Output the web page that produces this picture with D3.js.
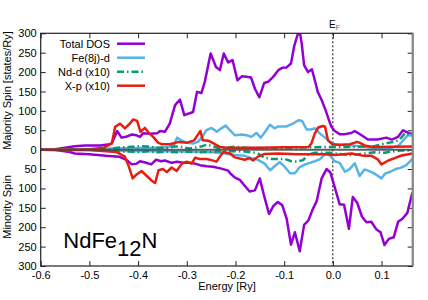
<!DOCTYPE html>
<html>
<head>
<meta charset="utf-8">
<script src="https://cdn.jsdelivr.net/npm/d3@7"></script>
<style>
  body { margin: 0; background: #fff; }
  text { font-family: "Liberation Sans", Arial, sans-serif; fill: #000; }
</style>
</head>
<body>
<div id="chart"></div>
<script>
// [energy (Ry), DOS (states/Ry)]; minority values kept positive, drawn downward
var totalUp = [[-0.6,0],[-0.571,1],[-0.55,5],[-0.53,9],[-0.509,11],[-0.478,11],[-0.462,13],[-0.454,16],[-0.443,48],[-0.434,31],[-0.425,33],[-0.413,39],[-0.403,37],[-0.396,33],[-0.39,42],[-0.376,41],[-0.361,42],[-0.355,48],[-0.345,46],[-0.335,67],[-0.324,115],[-0.314,129],[-0.305,89],[-0.287,97],[-0.279,149],[-0.27,146],[-0.263,175],[-0.251,248],[-0.24,213],[-0.232,205],[-0.224,248],[-0.215,225],[-0.206,231],[-0.196,179],[-0.187,189],[-0.177,188],[-0.168,186],[-0.16,157],[-0.151,135],[-0.141,172],[-0.133,175],[-0.123,187],[-0.112,205],[-0.104,211],[-0.095,212],[-0.086,222],[-0.079,269],[-0.072,298],[-0.068,305],[-0.064,274],[-0.059,218],[-0.051,200],[-0.043,207],[-0.037,179],[-0.031,149],[-0.023,128],[-0.015,102],[-0.008,76],[-0.003,59],[0.004,48],[0.014,40],[0.025,40],[0.038,43],[0.045,48],[0.059,37],[0.072,26],[0.092,26],[0.11,31],[0.121,26],[0.134,33],[0.144,50],[0.155,43],[0.164,40]];
var feUp = [[-0.6,0],[-0.5,1],[-0.45,3],[-0.4,4],[-0.36,5],[-0.34,6],[-0.326,12],[-0.32,31],[-0.31,23],[-0.3,18],[-0.287,16],[-0.277,20],[-0.267,35],[-0.26,50],[-0.249,56],[-0.238,46],[-0.229,55],[-0.22,62],[-0.213,52],[-0.201,37],[-0.187,39],[-0.177,37],[-0.167,33],[-0.157,43],[-0.148,31],[-0.138,48],[-0.129,64],[-0.12,55],[-0.112,60],[-0.095,60],[-0.081,68],[-0.07,76],[-0.063,74],[-0.054,52],[-0.045,52],[-0.036,55],[-0.027,42],[-0.016,31],[-0.006,20],[0.004,14],[0.025,12],[0.044,10],[0.055,9],[0.08,5],[0.1,4],[0.12,5],[0.135,10],[0.145,25],[0.155,38],[0.164,36]];
var ndUp = [[-0.6,0],[-0.5,0],[-0.46,1],[-0.443,5],[-0.42,7],[-0.4,9],[-0.38,8],[-0.36,5],[-0.34,5],[-0.325,8],[-0.315,8],[-0.295,3],[-0.279,6],[-0.268,9],[-0.258,13],[-0.248,9],[-0.232,3],[-0.212,6],[-0.201,8],[-0.191,6],[-0.17,4],[-0.1,4],[-0.05,6],[0,7],[0.03,7],[0.06,8],[0.085,9],[0.106,16],[0.127,20],[0.137,26],[0.148,42],[0.164,36]];
var xpUp = [[-0.6,0],[-0.5,1],[-0.47,5],[-0.454,16],[-0.447,59],[-0.437,67],[-0.427,55],[-0.417,67],[-0.41,78],[-0.402,74],[-0.395,46],[-0.386,56],[-0.377,42],[-0.369,33],[-0.359,18],[-0.352,14],[-0.335,14],[-0.316,20],[-0.299,18],[-0.285,24],[-0.272,48],[-0.267,24],[-0.256,23],[-0.242,14],[-0.232,7],[-0.218,5],[-0.15,5],[-0.1,6],[-0.05,7],[-0.044,16],[-0.037,42],[-0.03,57],[-0.021,61],[-0.016,59],[-0.01,24],[-0.001,14],[0.014,12],[0.035,14],[0.05,20],[0.058,16],[0.067,10],[0.083,7],[0.164,8]];

var totalDn = [[-0.6,0],[-0.57,1],[-0.54,6],[-0.53,10],[-0.5,12],[-0.466,16],[-0.439,18],[-0.423,27],[-0.413,38],[-0.403,36],[-0.396,30],[-0.385,33],[-0.373,38],[-0.363,26],[-0.353,30],[-0.345,28],[-0.331,34],[-0.32,31],[-0.307,34],[-0.293,34],[-0.283,36],[-0.273,40],[-0.259,43],[-0.246,44],[-0.229,49],[-0.215,54],[-0.211,61],[-0.201,72],[-0.191,78],[-0.181,93],[-0.171,108],[-0.16,105],[-0.15,74],[-0.141,120],[-0.131,166],[-0.122,145],[-0.113,135],[-0.104,143],[-0.095,177],[-0.086,245],[-0.078,213],[-0.068,262],[-0.059,194],[-0.05,182],[-0.042,156],[-0.033,132],[-0.023,74],[-0.013,50],[-0.005,59],[0.005,102],[0.014,141],[0.023,142],[0.033,204],[0.041,122],[0.05,137],[0.06,173],[0.069,187],[0.079,186],[0.089,205],[0.098,213],[0.106,246],[0.115,230],[0.125,226],[0.134,186],[0.143,178],[0.153,163],[0.162,117],[0.164,110]];
var feDn = [[-0.6,0],[-0.5,1],[-0.45,3],[-0.4,4],[-0.35,4],[-0.3,5],[-0.26,6],[-0.23,8],[-0.222,10],[-0.201,14],[-0.181,16],[-0.164,23],[-0.153,27],[-0.14,36],[-0.129,53],[-0.119,42],[-0.109,32],[-0.099,44],[-0.088,61],[-0.078,61],[-0.068,45],[-0.057,38],[-0.047,34],[-0.037,30],[-0.027,25],[-0.016,12],[-0.009,11],[0.004,30],[0.014,34],[0.025,57],[0.034,51],[0.045,35],[0.055,68],[0.065,51],[0.076,56],[0.086,62],[0.1,74],[0.107,62],[0.118,57],[0.129,50],[0.139,47],[0.151,40],[0.161,27],[0.164,23]];
var ndDn = [[-0.6,0],[-0.5,0],[-0.46,1],[-0.44,4],[-0.42,5],[-0.4,6],[-0.38,4],[-0.36,7],[-0.34,5],[-0.32,7],[-0.3,5],[-0.28,7],[-0.26,6],[-0.24,5],[-0.22,4],[-0.2,4],[-0.18,5],[-0.16,8],[-0.154,10],[-0.14,21],[-0.126,24],[-0.099,24],[-0.085,30],[-0.074,31],[-0.061,27],[-0.051,12],[-0.036,8],[-0.004,8],[0.018,12],[0.038,14],[0.066,10],[0.086,7],[0.106,8],[0.12,5],[0.14,2],[0.164,2]];
var xpDn = [[-0.6,0],[-0.5,1],[-0.466,4],[-0.445,6],[-0.427,18],[-0.42,40],[-0.411,74],[-0.403,64],[-0.393,55],[-0.382,68],[-0.372,80],[-0.365,86],[-0.358,53],[-0.349,50],[-0.341,58],[-0.331,46],[-0.321,55],[-0.31,36],[-0.3,31],[-0.29,36],[-0.283,21],[-0.273,24],[-0.259,24],[-0.249,27],[-0.239,31],[-0.232,18],[-0.225,6],[-0.211,10],[-0.201,20],[-0.181,26],[-0.171,22],[-0.164,28],[-0.154,18],[-0.14,11],[-0.113,10],[-0.072,12],[-0.016,12],[0.004,14],[0.039,10],[0.064,16],[0.08,16],[0.092,25],[0.1,38],[0.114,28],[0.127,22],[0.141,15],[0.164,10]];

var seriesNames = ['Total DOS', 'Fe(8j)-d', 'Nd-d (x10)', 'X-p (x10)'];
var seriesColors = ['#9400d3', '#56b4e9', '#009e73', '#e51e10'];
var seriesDash = [null, null, '7,3,1.5,3', null];
var xTicks = [-0.6, -0.5, -0.4, -0.3, -0.2, -0.1, 0.0, 0.1];
var yTicks = [-300, -250, -200, -150, -100, -50, 0, 50, 100, 150, 200, 250, 300];

var width = 428, height = 300;
var plotL = 40.7, plotR = 412.7, plotT = 33.3, plotB = 266;

var svg = d3.select('#chart').append('svg')
  .attr('width', width)
  .attr('height', height);

var x = d3.scaleLinear().domain([-0.6, 0.164]).range([plotL, plotR]);
var y = d3.scaleLinear().domain([-300, 300]).range([plotB, plotT]);

svg.append('clipPath').attr('id', 'plotClip')
  .append('rect')
  .attr('x', plotL).attr('y', plotT)
  .attr('width', plotR - plotL).attr('height', plotB - plotT);

// axes, ticks pointing inward on all four sides
function styleAxis(g) {
  g.select('.domain').remove();
  g.selectAll('.tick line').attr('stroke', '#222');
  g.selectAll('.tick text')
    .style('font-family', '"Liberation Sans", Arial, sans-serif')
    .style('font-size', '11px')
    .attr('fill', '#000');
}

svg.append('g')
  .attr('transform', 'translate(0,' + plotB + ')')
  .call(d3.axisBottom(x).tickValues(xTicks).tickSize(-5).tickPadding(5)
    .tickFormat(function (d) { return d.toFixed(1); }))
  .call(styleAxis);
svg.append('g')
  .attr('transform', 'translate(0,' + plotT + ')')
  .call(d3.axisTop(x).tickValues(xTicks).tickSize(-5).tickFormat(''))
  .call(styleAxis);
svg.append('g')
  .attr('transform', 'translate(' + plotL + ',0)')
  .call(d3.axisLeft(y).tickValues(yTicks).tickSize(-5).tickPadding(4)
    .tickFormat(function (d) { return Math.abs(d); }))
  .call(styleAxis);
svg.append('g')
  .attr('transform', 'translate(' + plotR + ',0)')
  .call(d3.axisRight(y).tickValues(yTicks).tickSize(-5).tickFormat(''))
  .call(styleAxis);

// Fermi level
svg.append('line')
  .attr('x1', x(0)).attr('x2', x(0))
  .attr('y1', plotT).attr('y2', plotB)
  .attr('stroke', '#000').attr('stroke-width', 1)
  .attr('stroke-dasharray', '2,2');

var line = d3.line()
  .x(function (d) { return x(d[0]); })
  .y(function (d) { return y(d[1]); });

var plot = svg.append('g').attr('clip-path', 'url(#plotClip)');

var upSets = [totalUp, feUp, ndUp, xpUp];
var dnSets = [totalDn, feDn, ndDn, xpDn];

function drawSet(sets, sign) {
  sets.forEach(function (data, i) {
    plot.append('path')
      .datum(data.map(function (d) { return [d[0], sign * d[1]]; }))
      .attr('d', line)
      .attr('fill', 'none')
      .attr('stroke', seriesColors[i])
      .attr('stroke-width', 2.5)
      .attr('stroke-linejoin', 'round')
      .attr('stroke-dasharray', seriesDash[i]);
  });
}
drawSet(upSets, 1);
drawSet(dnSets, -1);

// zero line
plot.append('line')
  .attr('x1', plotL).attr('x2', plotR)
  .attr('y1', y(0)).attr('y2', y(0))
  .attr('stroke', '#444').attr('stroke-width', 2)
  .attr('opacity', 0.85);

// frame
svg.append('rect')
  .attr('x', plotL).attr('y', plotT)
  .attr('width', plotR - plotL).attr('height', plotB - plotT)
  .attr('fill', 'none').attr('stroke', '#222').attr('stroke-width', 1.2);
svg.append('line')
  .attr('x1', plotR).attr('x2', plotR)
  .attr('y1', plotT).attr('y2', plotB)
  .attr('stroke', '#888').attr('stroke-width', 2.2);

// legend
var legend = svg.append('g');
seriesNames.forEach(function (name, i) {
  var ly = 43.7 + i * 14;
  legend.append('text')
    .attr('x', 110).attr('y', ly + 3.8)
    .attr('text-anchor', 'end')
    .style('font-size', '11px')
    .text(name);
  legend.append('line')
    .attr('x1', 117).attr('x2', 145)
    .attr('y1', ly).attr('y2', ly)
    .attr('stroke', seriesColors[i])
    .attr('stroke-width', 2.5)
    .attr('stroke-dasharray', seriesDash[i]);
});

// labels
svg.append('text')
  .attr('transform', 'translate(10.5,90.5) rotate(-90)')
  .attr('text-anchor', 'middle')
  .style('font-size', '11px')
  .text('Majority Spin [states/Ry]');
svg.append('text')
  .attr('transform', 'translate(10.5,207) rotate(-90)')
  .attr('text-anchor', 'middle')
  .style('font-size', '11px')
  .text('Minority Spin');
svg.append('text')
  .attr('x', 227).attr('y', 290)
  .attr('text-anchor', 'middle')
  .style('font-size', '11px')
  .text('Energy [Ry]');

var ef = svg.append('text')
  .attr('x', 329).attr('y', 28.3)
  .style('font-size', '10px');
ef.append('tspan').text('E');
ef.append('tspan').attr('dy', 2).style('font-size', '7px').attr('fill', '#666').text('F');

var title = svg.append('text')
  .attr('x', 63.3).attr('y', 248.3)
  .style('font-size', '22px');
title.append('tspan').text('NdFe');
title.append('tspan').attr('dy', 7.7).text('12');
title.append('tspan').attr('dy', -7.7).text('N');
</script>
</body>
</html>
